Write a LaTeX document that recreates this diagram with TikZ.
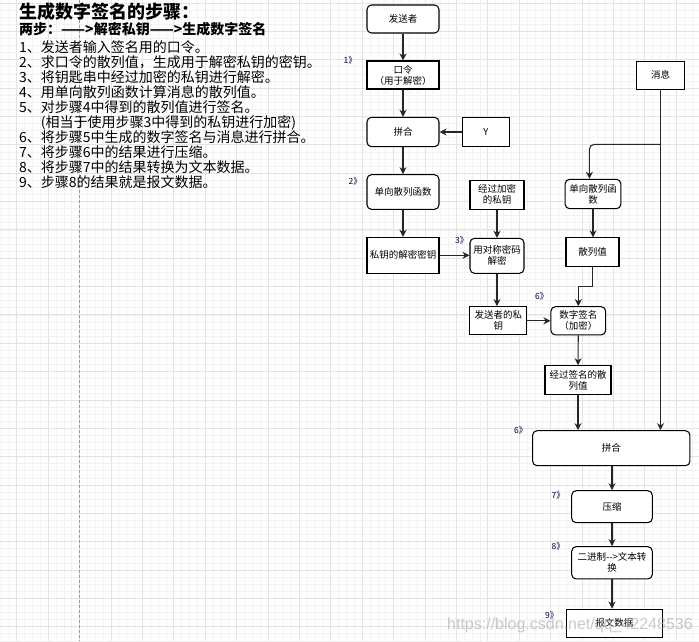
\documentclass[tikz,border=0pt]{standalone}
\usepackage{fontspec}
\setmainfont{Noto Sans CJK SC}
\newfontfamily\wmfont{Liberation Sans}
\usetikzlibrary{arrows.meta,calc}
\begin{document}
\begin{tikzpicture}[x=1pt,y=-1pt,
  boxbase/.style={draw=black, line width=1.05pt, fill=white, inner sep=0pt, align=center, font=\fontsize{9.5}{11}\selectfont},
  rbox/.style={boxbase, rounded corners=4.5pt},
  sbox/.style={boxbase},
  conn/.style={line width=1.1pt, draw=black!85, -{Stealth[length=7pt,width=7pt,inset=2.2pt]}},
  steplbl/.style={font=\fontsize{8.5}{9}\selectfont, text=black!75!blue, anchor=west, inner sep=0pt},
  txt/.style={anchor=base west, inner sep=0pt, font=\fontsize{14}{15}\selectfont},
  minorgrid/.style={draw=black!5, line width=0.6pt},
  majorgrid/.style={draw=black!11, line width=0.8pt}
]
\useasboundingbox (0,0) rectangle (699,641);
\fill[white] (0,0) rectangle (699,641);
\begin{scope}
\clip (0,0) rectangle (699,641);
\foreach \i in {0,...,91} {\draw[minorgrid] ({1+7.85*\i},0) -- ++(0,641);}
\foreach \j in {0,...,90} {\draw[minorgrid] (0,{3+7.0875*\j}) -- ++(699,0);}
\foreach \i in {0,...,22} {\draw[majorgrid] ({16.7+31.4*\i},0) -- ++(0,641);}
\foreach \j in {0,...,22} {\draw[majorgrid] (0,{3+28.35*\j}) -- ++(699,0);}
\draw[black!40, line width=0.8pt, dash pattern=on 3pt off 2pt] (79,0) -- (79,641);
\end{scope}

% left text
\node[txt, font=\fontsize{18}{20}\selectfont\bfseries] (title) at (19,18.5) {生成数字签名的步骤：};
\node[txt, font=\fontsize{14}{15}\selectfont\bfseries] (sub) at (19,34.5) {两步：——>解密私钥——>生成数字签名};
\node[txt] (l1) at (19,52) {1、发送者输入签名用的口令。};
\node[txt] (l2) at (19,67) {2、求口令的散列值，生成用于解密私钥的密钥。};
\node[txt] (l3) at (19,82) {3、将钥匙串中经过加密的私钥进行解密。};
\node[txt] (l4) at (19,97) {4、用单向散列函数计算消息的散列值。};
\node[txt] (l5) at (19,112) {5、对步骤4中得到的散列值进行签名。};
\node[txt] (l5b) at (19,127) {\phantom{5、}(相当于使用步骤3中得到的私钥进行加密)};
\node[txt] (l6) at (19,142) {6、将步骤5中生成的数字签名与消息进行拼合。};
\node[txt] (l7) at (19,157) {7、将步骤6中的结果进行压缩。};
\node[txt] (l8) at (19,172) {8、将步骤7中的结果转换为文本数据。};
\node[txt] (l9) at (19,187) {9、步骤8的结果就是报文数据。};

% boxes
\node[rbox, minimum width=72pt, minimum height=28pt] (fs) at (403,19) {发送者};
\node[sbox, minimum width=72pt, minimum height=28pt] (kl) at (403,75) {口令\\（用于解密）};
\node[rbox, minimum width=72pt, minimum height=29.4pt] (ph1) at (403,132) {拼合};
\node[sbox, minimum width=47pt, minimum height=29.4pt] (y) at (485.8,132) {Y};
\node[sbox, minimum width=47.6pt, minimum height=28pt] (xx) at (660.5,75.3) {消息};
\node[rbox, minimum width=72pt, minimum height=34.6pt] (dx1) at (403,192) {单向散列函数};
\node[sbox, minimum width=72pt, minimum height=36pt] (sy) at (403,255.3) {私钥的解密密钥};
\node[sbox, minimum width=54pt, minimum height=29.3pt] (jg) at (497,194.7) {经过加密\\的私钥};
\node[rbox, minimum width=54pt, minimum height=35pt] (yd) at (497,255.8) {用对称密码\\解密};
\node[rbox, minimum width=55.7pt, minimum height=29.4pt] (dx2) at (593,194) {单向散列函\\数};
\node[sbox, minimum width=53pt, minimum height=28.7pt] (slz) at (592.5,252.3) {散列值};
\node[sbox, minimum width=56.7pt, minimum height=28.3pt] (fsy) at (498.3,320.8) {发送者的私\\钥};
\node[rbox, minimum width=54.7pt, minimum height=28.3pt] (sz) at (578.3,320.8) {数字签名\\（加密）};
\node[sbox, minimum width=66pt, minimum height=28.6pt] (qm) at (578,380) {经过签名的散\\列值};
\node[rbox, minimum width=157.3pt, minimum height=35pt] (ph2) at (611.3,448.2) {拼合};
\node[rbox, minimum width=80.6pt, minimum height=32pt] (ys) at (612,506.7) {压缩};
\node[rbox, minimum width=80.6pt, minimum height=32.3pt] (ej) at (612,562.8) {二进制-{}-{}>文本转\\换};
\node[sbox, minimum width=95.8pt, minimum height=28.3pt] (bw) at (614.4,623.2) {报文数据};

% step labels
\node[steplbl] (s1) at (343.5,60.5) {1》};
\node[steplbl] (s2) at (348.5,181) {2》};
\node[steplbl] (s3) at (455,240) {3》};
\node[steplbl] (s5) at (535,296) {6》};
\node[steplbl] (s6) at (514,430) {6》};
\node[steplbl] (s7) at (551.5,495) {7》};
\node[steplbl] (s8) at (551.5,546.5) {8》};
\node[steplbl] (s9) at (545,615) {9》};

% connectors
\draw[conn] (fs) -- (kl);
\draw[conn] (kl) -- (ph1);
\draw[conn] (y) -- (ph1);
\draw[conn] (ph1) -- (dx1);
\draw[conn] (dx1) -- (sy);
\draw[conn] (sy.east) -- (yd.west |- sy.east);
\draw[conn] (jg) -- (yd);
\draw[conn] (yd.south) -- (yd.south |- fsy.north);
\draw[conn] (fsy.east) -- (sz.west |- fsy.east);
\draw[conn] (xx.south) -- (xx.south |- ph2.north);
\coordinate (br) at (660.5,144.3);
\draw[conn, rounded corners=5pt] (br) -| ($(dx2.north)+(-3.6,0)$);
\draw[conn] (dx2.south) -- (dx2.south |- slz.north);
\draw[conn] (slz.south) -- ++(0,19.3) -| (sz.north);
\draw[conn] (sz) -- (qm);
\draw[conn] (qm.south) -- (qm.south |- ph2.north);
\draw[conn] (ph2.south -| ys.north) -- (ys.north);
\draw[conn] (ys) -- (ej);
\draw[conn] (ej.south) -- (ej.south |- bw.north);

% watermark
\node[anchor=base west, inner sep=0pt, font=\wmfont\fontsize{16}{16}\selectfont, text=black!30, opacity=0.7] (wm) at (447,629) {https://blog.csdn.net/qq\_42248536};
\end{tikzpicture}
\end{document}
